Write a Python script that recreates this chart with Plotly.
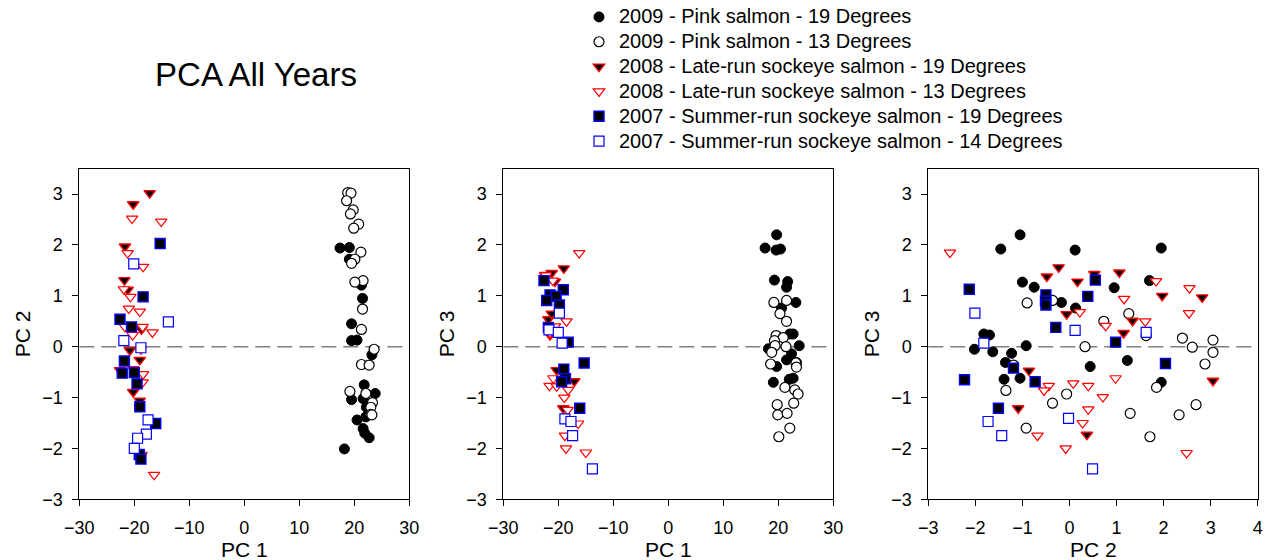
import plotly.graph_objects as go

# ---------------- data ----------------
SERIES_NAMES = [
    "2009 - Pink salmon - 19 Degrees",
    "2009 - Pink salmon - 13 Degrees",
    "2008 - Late-run sockeye salmon - 19 Degrees",
    "2008 - Late-run sockeye salmon - 13 Degrees",
    "2007 - Summer-run sockeye salmon - 19 Degrees",
    "2007 - Summer-run sockeye salmon - 14 Degrees",
]

# Panel 1: PC 1 vs PC 2
P1_PINK19 = [(17.4, 1.94), (19.1, 1.95), (19.1, 1.72), (21.3, 1.21), (21.5, 0.95), (19.5, 0.45),
             (19.5, 0.12), (20.5, 0.13), (23.2, -0.16), (21.8, -0.75), (23.8, -0.92), (19.5, -1.04),
             (21.6, -1.02), (20.5, -1.44), (22.1, -1.38), (21.6, -1.61), (21.9, -1.70), (22.7, -1.79),
             (18.2, -2.01), (22.2, -1.19)]
P1_PINK13 = [(18.8, 3.03), (19.4, 3.02), (18.6, 2.87), (19.8, 2.69), (19.3, 2.61), (20.8, 2.41),
             (19.9, 2.33), (21.2, 1.86), (20.1, 1.72), (19.5, 1.64), (21.6, 1.30), (20.1, 1.27),
             (21.5, 0.74), (21.3, 0.34), (23.6, -0.05), (21.3, -0.35), (22.7, -0.36), (19.2, -0.88),
             (22.1, -0.92), (23.3, -1.10), (23.0, -1.19), (23.0, -1.33), (23.2, -1.34)]
P1_LATE19 = [(-17.2, 3.02), (-20.2, 2.80), (-21.7, 1.97), (-21.8, 1.31), (-21.2, 1.12), (-18.7, 0.34),
             (-20.8, -0.07), (-19.0, -0.26), (-22.6, -0.46), (-20.2, -0.89), (-19.0, -1.06),
             (-18.7, -2.13)]
P1_LATE13 = [(-20.4, 2.52), (-15.1, 2.46), (-21.2, 1.84), (-18.4, 1.57), (-21.9, 1.13), (-20.7, 0.98),
             (-21.0, 0.75), (-19.0, 0.69), (-18.5, 0.39), (-16.7, 0.28), (-20.3, 0.23), (-21.7, 0.39),
             (-18.4, -0.54), (-18.5, -0.70), (-20.2, -0.44), (-16.4, -2.52), (-18.8, -0.05)]
P1_SUMMER19 = [(-15.3, 2.03), (-18.4, 0.98), (-22.6, 0.54), (-20.5, 0.39), (-21.8, -0.28), (-22.2, -0.52),
               (-20.0, -0.51), (-19.5, -0.73), (-19.0, -1.18), (-16.1, -1.51), (-19.1, -2.12),
               (-18.8, -2.21)]
P1_SUMMER14 = [(-20.1, 1.63), (-13.8, 0.49), (-21.9, 0.12), (-18.8, -0.02), (-17.5, -1.44),
               (-17.8, -1.72), (-19.4, -1.80), (-20.0, -2.00)]

# Panel 2: PC 1 vs PC 3
P2_PINK19 = [(19.7, 2.20), (17.6, 1.94), (19.6, 1.90), (20.4, 1.92), (19.3, 1.31), (21.7, 1.28),
             (21.5, 1.17), (23.2, 0.87), (20.6, 0.76), (22.1, 0.25), (22.7, 0.25), (23.8, 0.02),
             (18.2, -0.04), (22.4, -0.14), (21.5, -0.26), (19.7, -0.39), (23.3, -0.31), (19.1, -0.70),
             (22.0, -0.64), (22.7, -0.62)]
P2_PINK13 = [(19.2, 0.87), (21.5, 0.91), (20.3, 0.65), (21.5, 0.50), (19.6, 0.22), (20.9, 0.18),
             (19.3, 0.12), (21.4, 0.00), (19.4, 0.02), (18.8, -0.11), (18.6, -0.34), (23.2, -0.32),
             (23.3, -0.40), (21.2, -0.80), (23.0, -0.85), (23.6, -0.93), (22.8, -1.11), (19.8, -1.14),
             (19.9, -1.34), (21.6, -1.31), (22.1, -1.60), (20.1, -1.77)]
P2_LATE19 = [(-19.0, 1.54), (-21.2, 1.45), (-22.4, 1.41), (-20.6, 1.28), (-21.8, 0.54), (-21.2, 0.65),
             (-21.5, 0.23), (-20.3, -0.46), (-17.1, -0.68), (-19.1, -1.21)]
P2_LATE13 = [(-16.2, 1.84), (-21.0, 1.30), (-22.2, 1.40), (-18.5, 0.50), (-20.6, 0.40), (-21.5, 0.27),
             (-20.9, -0.62), (-21.6, -0.77), (-20.3, -0.78), (-18.2, -0.85), (-18.9, -1.00),
             (-18.3, -1.24), (-16.4, -1.51), (-18.8, -1.75), (-18.6, -2.00), (-15.0, -2.08)]
P2_SUMMER19 = [(-22.6, 1.30), (-19.1, 1.12), (-21.5, 1.02), (-20.4, 0.99), (-22.1, 0.91), (-19.8, 0.82),
               (-21.8, 0.38), (-18.2, 0.09), (-15.3, -0.32), (-19.0, -0.44), (-18.7, -0.63),
               (-19.4, -0.69), (-16.1, -1.21)]
P2_SUMMER14 = [(-19.8, 0.66), (-21.7, 0.33), (-20.0, 0.28), (-19.3, 0.07), (-18.8, -1.42),
               (-17.7, -1.47), (-17.4, -1.75), (-13.8, -2.40)]

# Panel 3: PC 2 vs PC 3
P3_PINK19 = [(-1.05, 2.20), (-1.46, 1.92), (0.12, 1.90), (1.95, 1.94), (-1.00, 1.27), (-0.75, 1.17),
             (1.70, 1.30), (0.95, 1.16), (-0.17, 0.87), (0.13, 0.76), (-1.82, 0.25), (-1.70, 0.23),
             (-2.02, -0.05), (-0.92, 0.02), (-1.63, -0.10), (-1.23, -0.13), (-1.36, -0.31),
             (1.23, -0.27), (0.44, -0.39), (-1.39, -0.64), (-1.05, -0.62), (1.95, -0.70)]
P3_PINK13 = [(-0.90, 0.86), (-0.36, 0.91), (1.26, 0.65), (0.73, 0.50), (2.40, 0.17), (3.05, 0.13),
             (1.63, 0.22), (0.33, 0.00), (2.61, -0.01), (3.05, -0.11), (2.88, -0.34), (-1.19, -0.36),
             (-1.35, -0.86), (-0.06, -0.93), (-0.36, -1.11), (1.85, -0.80), (2.69, -1.14),
             (1.29, -1.31), (2.33, -1.34), (-0.92, -1.60), (1.71, -1.77)]
P3_LATE19 = [(-0.23, 1.56), (-0.48, 1.38), (0.53, 1.43), (1.06, 1.46), (0.17, 1.28), (1.97, 1.00),
             (2.82, 0.97), (-0.06, 0.64), (1.34, 0.51), (1.15, 0.27), (-0.86, -0.47), (3.05, -0.67),
             (-1.09, -1.21), (0.37, -1.73)]
P3_LATE13 = [(-2.54, 1.85), (1.84, 1.29), (2.55, 1.15), (1.16, 0.94), (0.22, 0.68), (2.54, 0.66),
             (1.61, 0.50), (0.77, 0.41), (-0.44, -0.77), (-0.54, -0.86), (0.08, -0.72), (0.40, -0.77),
             (0.98, -0.62), (0.71, -0.99), (0.40, -1.23), (0.28, -1.50), (-0.68, -1.75),
             (-0.08, -2.00), (2.49, -2.09)]
P3_SUMMER19 = [(-2.13, 1.13), (0.55, 1.31), (-0.50, 1.02), (-0.51, 0.90), (-0.50, 0.82), (0.39, 0.99),
               (-0.29, 0.38), (0.98, 0.09), (2.04, -0.33), (-1.19, -0.42), (-0.73, -0.69),
               (-2.23, -0.65), (-1.51, -1.21)]
P3_SUMMER14 = [(-2.01, 0.66), (-1.82, 0.07), (0.12, 0.32), (1.63, 0.28), (-1.73, -1.47),
               (-1.44, -1.75), (-0.02, -1.41), (0.49, -2.40)]

PANELS = [
    [P1_PINK19, P1_PINK13, P1_LATE19, P1_LATE13, P1_SUMMER19, P1_SUMMER14],
    [P2_PINK19, P2_PINK13, P2_LATE19, P2_LATE13, P2_SUMMER19, P2_SUMMER14],
    [P3_PINK19, P3_PINK13, P3_LATE19, P3_LATE13, P3_SUMMER19, P3_SUMMER14],
]
X_TITLES = ["PC 1", "PC 1", "PC 2"]
Y_TITLES = ["PC 2", "PC 3", "PC 3"]
X_RANGES = [[-30, 30], [-30, 30], [-3, 4]]
X_DTICKS = [10, 10, 1]
Y_RANGE = [-3, 3.5]

# ---------------- layout helpers ----------------
W, H = 1269, 560


def fx(px):                   # page pixel -> paper x
    return px / W


def fy(py):                   # page pixel -> paper y
    return 1 - py / H


FONT = "Liberation Sans, Arial, sans-serif"
STYLES = [
    dict(symbol="circle", size=10, color="black", line=dict(color="black", width=1)),
    dict(symbol="circle", size=10, color="white", line=dict(color="black", width=1.2)),
    dict(symbol="triangle-down", size=10, color="black", line=dict(color="#ff0000", width=1.4)),
    dict(symbol="triangle-down", size=10, color="white", line=dict(color="#ff0000", width=1.2)),
    dict(symbol="square", size=10, color="black", line=dict(color="#0000ff", width=1.4)),
    dict(symbol="square", size=10, color="white", line=dict(color="#0000ff", width=1.2)),
]
PX_LEFT = [79.3, 503.3, 928.3]
PX_RIGHT = [409.3, 833.3, 1257.7]
PX_TOP, PX_BOTTOM = 168.7, 499.3

fig = go.Figure()
for p, groups in enumerate(PANELS):
    xa = "x" if p == 0 else f"x{p+1}"
    ya = "y" if p == 0 else f"y{p+1}"
    for g, pts in enumerate(groups):
        fig.add_trace(go.Scatter(
            x=[a for a, b in pts], y=[b for a, b in pts],
            mode="markers", xaxis=xa, yaxis=ya,
            name='<span style="font-size:20px">' + SERIES_NAMES[g] + "</span>",
            showlegend=(p == 0),
            marker=STYLES[g], hoverinfo="x+y",
        ))

layout = dict(
    width=W, height=H, margin=dict(l=0, r=0, t=0, b=0, autoexpand=False),
    paper_bgcolor="white", plot_bgcolor="white",
    font=dict(family=FONT, color="black", size=18),
    title=dict(text="PCA All Years", font=dict(size=33, family=FONT, color="black"),
               x=fx(256), xanchor="center", y=fy(74), yanchor="middle"),
    legend=dict(x=fx(579), xanchor="left", y=fy(-0.5), yanchor="top",
                font=dict(size=16.8, family=FONT, color="black"), tracegroupgap=0,
                bgcolor="rgba(0,0,0,0)", borderwidth=0, itemclick=False),
    shapes=[], annotations=[],
)
for p in range(3):
    sx = "" if p == 0 else str(p + 1)
    common = dict(showline=True, linecolor="black", linewidth=1, mirror=True,
                  ticks="outside", ticklen=6, tickwidth=1, tickcolor="black",
                  showgrid=False, zeroline=False, tickfont=dict(size=18, family=FONT),
                  ticklabelstandoff=6)
    layout["xaxis" + sx] = dict(common, domain=[fx(PX_LEFT[p]), fx(PX_RIGHT[p])],
                                range=X_RANGES[p], dtick=X_DTICKS[p], tick0=0,
                                anchor="y" + sx)
    layout["yaxis" + sx] = dict(common, domain=[fy(PX_BOTTOM), fy(PX_TOP)],
                                range=Y_RANGE, dtick=1, tick0=0, anchor="x" + sx)
    layout["shapes"].append(dict(type="line", xref=f"x{sx} domain", yref="y" + sx,
                                 x0=0, x1=1, y0=0, y1=0, layer="below",
                                 line=dict(color="#7f7f7f", width=1.6, dash="15px,7px")))
    layout["annotations"].append(dict(text=X_TITLES[p], xref=f"x{sx} domain", x=0.5,
                                      yref="paper", y=fy(549), showarrow=False,
                                      xanchor="center", yanchor="middle",
                                      font=dict(size=21, family=FONT)))
    layout["annotations"].append(dict(text=Y_TITLES[p], xref=f"x{sx} domain", x=0, xshift=-57,
                                      yref=f"y{sx} domain", y=0.5, showarrow=False, textangle=-90,
                                      xanchor="center", yanchor="middle",
                                      font=dict(size=21, family=FONT)))
fig.update_layout(**layout)
# remove the browser's default 8px page margin so the figure fills the window exactly
fig.write_html("out.html", config={"displayModeBar": False},
               post_script="document.body.style.margin='0px';")
